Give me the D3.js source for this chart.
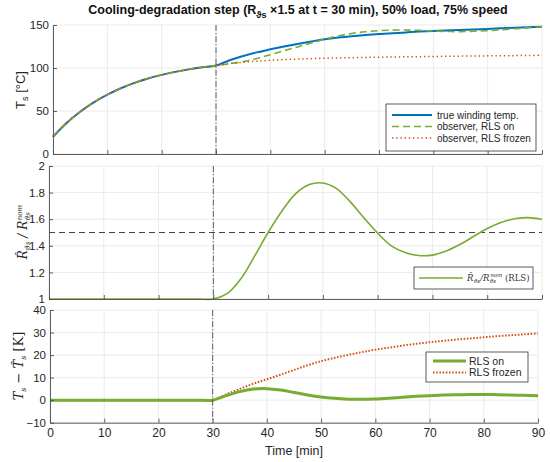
<!DOCTYPE html>
<html><head><meta charset="utf-8">
<script src="https://cdn.jsdelivr.net/npm/d3@7"></script>
<style>body{margin:0;background:#fff} svg{display:block}</style>
</head><body><svg id="c" width="550" height="462"></svg>
<script>
// ---- data ----
const times = [0,2.5,5,7.5,10,12.5,15,17.5,20,22.5,25,27.5,30,32.5,35,37.5,40,42.5,45,47.5,50,52.5,55,57.5,60,62.5,65,67.5,70,72.5,75,77.5,80,82.5,85,87.5,90];
const trueTemp = [20,36.0,49.1,60.0,69.0,76.5,82.7,87.8,92.0,95.5,98.4,100.8,102.8,109.0,114.0,118.2,121.7,125.0,128.0,130.8,133.4,135.4,137.0,138.3,139.4,140.4,141.4,142.3,143.0,143.7,144.3,144.9,145.4,146.2,146.9,147.5,148.0];
const obsRlsOn = [20,36.0,49.1,60.0,69.0,76.5,82.7,87.8,92.0,95.5,98.4,100.8,102.8,105.0,107.5,111.0,115.5,120.0,124.5,129.0,133.4,137.3,140.2,142.2,143.4,144.0,144.2,143.7,143.0,142.5,142.3,142.7,143.5,144.5,145.6,146.8,148.0];
const obsRlsFrozen = [20,36.0,49.1,60.0,69.0,76.5,82.7,87.8,92.0,95.5,98.4,100.8,102.8,105.2,106.6,107.9,109.0,109.8,110.4,110.9,111.3,111.7,112.0,112.3,112.5,112.8,113.0,113.2,113.4,113.6,113.8,114.0,114.1,114.3,114.4,114.6,114.7];
const ratioRls = [1,1,1,1,1,1,1,1,1,1,1,1,1,1.04,1.15,1.32,1.50,1.66,1.79,1.86,1.872,1.83,1.73,1.61,1.495,1.40,1.35,1.327,1.33,1.36,1.41,1.47,1.53,1.575,1.603,1.612,1.60];
const errRlsOn = [0,0,0,0,0,0,0,0,0,0,0,0,0,2.0,3.8,4.9,5.1,4.5,3.4,2.3,1.4,0.8,0.45,0.35,0.5,0.85,1.3,1.7,2.0,2.25,2.4,2.5,2.5,2.45,2.3,2.15,2.0];
const errRlsFrozen = [0,0,0,0,0,0,0,0,0,0,0,0,0,2.6,5.0,7.3,9.3,11.3,13.4,15.5,17.3,18.8,20.1,21.3,22.4,23.3,24.2,25.0,25.7,26.3,26.9,27.4,27.9,28.4,28.8,29.2,29.6];
const timeTicks = [0,10,20,30,40,50,60,70,80,90];
const tempTicks = [0,50,100,150];
const ratioTicks = [1,1.2,1.4,1.6,1.8,2];
const errTicks = [-10,0,10,20,30,40];
const stepTime = 30;
const ratioTarget = 1.5;
const legend1 = ["true winding temp.","observer, RLS on","observer, RLS frozen"];
const legend3 = ["RLS on","RLS frozen"];

// ---- styles ----
const BLUE = "#0072BD", GREEN = "#77AC30", ORANGE = "#D95319";
const SANS = "Liberation Sans, Arial, Helvetica, sans-serif";
const SERIF = "DejaVu Serif, Liberation Serif, serif";
const svg = d3.select("#c");

const panels = [
  {x0:53, x1:542, y0:25, y1:154, dom:[0,150], ticks:tempTicks, labels:false},
  {x0:49, x1:542, y0:166, y1:299, dom:[1,2], ticks:ratioTicks, labels:false},
  {x0:50, x1:538, y0:310, y1:422.7, dom:[-10,40], ticks:errTicks, labels:true}
];

panels.forEach(p => {
  p.x = d3.scaleLinear().domain([0,90]).range([p.x0,p.x1]);
  p.y = d3.scaleLinear().domain(p.dom).range([p.y1,p.y0]);
  const g = svg.append("g");
  p.g = g;
  g.selectAll(".vg").data(timeTicks).join("line")
    .attr("x1",d=>p.x(d)).attr("x2",d=>p.x(d)).attr("y1",p.y0).attr("y2",p.y1)
    .attr("stroke","#e3e3e3").attr("stroke-width",0.7);
  g.selectAll(".hg").data(p.ticks).join("line")
    .attr("x1",p.x0).attr("x2",p.x1).attr("y1",d=>p.y(d)).attr("y2",d=>p.y(d))
    .attr("stroke","#e3e3e3").attr("stroke-width",0.7);
});

function pts(vals){ return times.map((t,i)=>[t,vals[i]]); }
function drawLine(p, vals, color, width, dash){
  const line = d3.line().x(d=>p.x(d[0])).y(d=>p.y(d[1])).curve(d3.curveCatmullRom.alpha(0.5));
  p.g.append("path").attr("d", line(pts(vals))).attr("fill","none")
    .attr("stroke",color).attr("stroke-width",width)
    .attr("stroke-dasharray", dash || null);
}

const P1 = panels[0], P2 = panels[1], P3 = panels[2];
drawLine(P1, trueTemp, BLUE, 2);
drawLine(P1, obsRlsOn, GREEN, 1.6, "7,4");
drawLine(P1, obsRlsFrozen, ORANGE, 1.5, "1.4,2.8");
P2.g.append("line").attr("x1",P2.x0).attr("x2",P2.x1)
  .attr("y1",P2.y(ratioTarget)).attr("y2",P2.y(ratioTarget))
  .attr("stroke","#444").attr("stroke-width",1).attr("stroke-dasharray","6,4");
drawLine(P2, ratioRls, GREEN, 1.6);
drawLine(P3, errRlsFrozen, ORANGE, 2, "1.6,1.6");
drawLine(P3, errRlsOn, GREEN, 3);

panels.forEach(p => {
  p.g.append("line").attr("x1",p.x(stepTime)).attr("x2",p.x(stepTime))
    .attr("y1",p.y0).attr("y2",p.y1)
    .attr("stroke","#333").attr("stroke-width",0.8).attr("stroke-dasharray","6,2,1.2,2");
  const ax = d3.axisBottom(p.x).tickValues(timeTicks).tickSizeInner(-4).tickSizeOuter(0).tickPadding(6);
  if(!p.labels) ax.tickFormat("");
  const gx = p.g.append("g").attr("transform",`translate(0,${p.y1})`).call(ax);
  const ay = d3.axisLeft(p.y).tickValues(p.ticks).tickSizeInner(-4).tickSizeOuter(0).tickPadding(4)
    .tickFormat(d3.format("~g"));
  const gy = p.g.append("g").attr("transform",`translate(${p.x0},0)`).call(ay);
  [gx,gy].forEach(a=>{
    a.attr("font-family",SANS).attr("font-size",11.5);
    a.selectAll("path,line").attr("stroke","#4d4d4d").attr("stroke-width",0.9);
    a.selectAll("text").attr("fill","#262626");
  });
  gx.selectAll("text").attr("font-size",12);
});

// Title
const title = svg.append("text").attr("x",298).attr("y",14).attr("text-anchor","middle")
  .attr("font-family",SANS).attr("font-size",12.5).attr("font-weight","bold").attr("fill","#111");
title.append("tspan").text("Cooling-degradation step (R");
title.append("tspan").attr("font-size",9).attr("dy",4).text("ϑs");
title.append("tspan").attr("dy",-4).text(" ×1.5 at t = 30 min), 50% load, 75% speed");

svg.append("text").attr("x",294).attr("y",455).attr("text-anchor","middle")
  .attr("font-family",SANS).attr("font-size",12.5).attr("fill","#262626").text("Time [min]");

const yl1 = svg.append("text").attr("transform","translate(25,90) rotate(-90)").attr("text-anchor","middle")
  .attr("font-family",SANS).attr("font-size",13).attr("fill","#262626");
yl1.append("tspan").text("T");
yl1.append("tspan").attr("font-size",9).attr("dy",3).text("s");
yl1.append("tspan").attr("dy",-3).text(" [°C]");

const yl2 = svg.append("text").attr("transform","translate(27,232) rotate(-90)").attr("text-anchor","middle")
  .attr("font-family",SERIF).attr("font-size",12).attr("font-style","italic").attr("fill","#262626");
yl2.append("tspan").text("R\u0302");
yl2.append("tspan").attr("font-size",7).attr("dy",3).text("ϑs");
yl2.append("tspan").attr("dy",-3).text(" / R");
yl2.append("tspan").attr("font-size",7).attr("dy",3).text("ϑs");
yl2.append("tspan").attr("font-size",7).attr("dy",-8).attr("dx",-8).text("nom");

const yl3 = svg.append("text").attr("transform","translate(23,366) rotate(-90)").attr("text-anchor","middle")
  .attr("font-family",SERIF).attr("font-size",13).attr("font-style","italic").attr("fill","#262626");
yl3.append("tspan").text("T");
yl3.append("tspan").attr("font-size",8).attr("dy",3).text("s");
yl3.append("tspan").attr("dy",-3).attr("font-style","normal").text(" − ");
yl3.append("tspan").text("T\u0302");
yl3.append("tspan").attr("font-size",8).attr("dy",3).text("s");
yl3.append("tspan").attr("dy",-3).attr("font-style","normal").text(" [K]");

function legendBox(x0,y0,w,h){
  svg.append("rect").attr("x",x0).attr("y",y0).attr("width",w).attr("height",h)
    .attr("fill","#fff").attr("stroke","#333").attr("stroke-width",0.8);
}
legendBox(386,104,150,47);
const l1style = [[BLUE,2,null],[GREEN,1.6,"7,4"],[ORANGE,1.5,"1.4,2.8"]];
legend1.forEach((t,i)=>{
  const yy = 115 + i*11.5;
  svg.append("line").attr("x1",392).attr("x2",432).attr("y1",yy).attr("y2",yy)
    .attr("stroke",l1style[i][0]).attr("stroke-width",l1style[i][1]).attr("stroke-dasharray",l1style[i][2]);
  svg.append("text").attr("x",437).attr("y",yy+3.5).attr("font-family",SANS).attr("font-size",10)
    .attr("fill","#262626").text(t);
});
legendBox(414,267,119,22);
svg.append("line").attr("x1",419).attr("x2",463).attr("y1",278).attr("y2",278)
  .attr("stroke",GREEN).attr("stroke-width",1.6);
const lt2 = svg.append("text").attr("x",467).attr("y",281).attr("font-family",SERIF).attr("font-size",8.5).attr("fill","#333");
lt2.append("tspan").attr("font-style","italic").text("R\u0302");
lt2.append("tspan").attr("font-style","italic").attr("font-size",5.5).attr("dy",2).text("ϑs");
lt2.append("tspan").attr("font-style","italic").attr("dy",-2).text("/R");
lt2.append("tspan").attr("font-style","italic").attr("font-size",5.5).attr("dy",2).text("ϑs");
lt2.append("tspan").attr("font-style","italic").attr("font-size",5.5).attr("dy",-6).attr("dx",-6).text("nom");
lt2.append("tspan").attr("dy",4).text(" (RLS)");
legendBox(426,352,102,30);
const l3style = [[GREEN,3,null],[ORANGE,2,"1.6,1.6"]];
legend3.forEach((t,i)=>{
  const yy = 361 + i*11.5;
  svg.append("line").attr("x1",433).attr("x2",466).attr("y1",yy).attr("y2",yy)
    .attr("stroke",l3style[i][0]).attr("stroke-width",l3style[i][1]).attr("stroke-dasharray",l3style[i][2]);
  svg.append("text").attr("x",469).attr("y",yy+3.5).attr("font-family",SANS).attr("font-size",10.5)
    .attr("fill","#262626").text(t);
});
</script></body></html>
